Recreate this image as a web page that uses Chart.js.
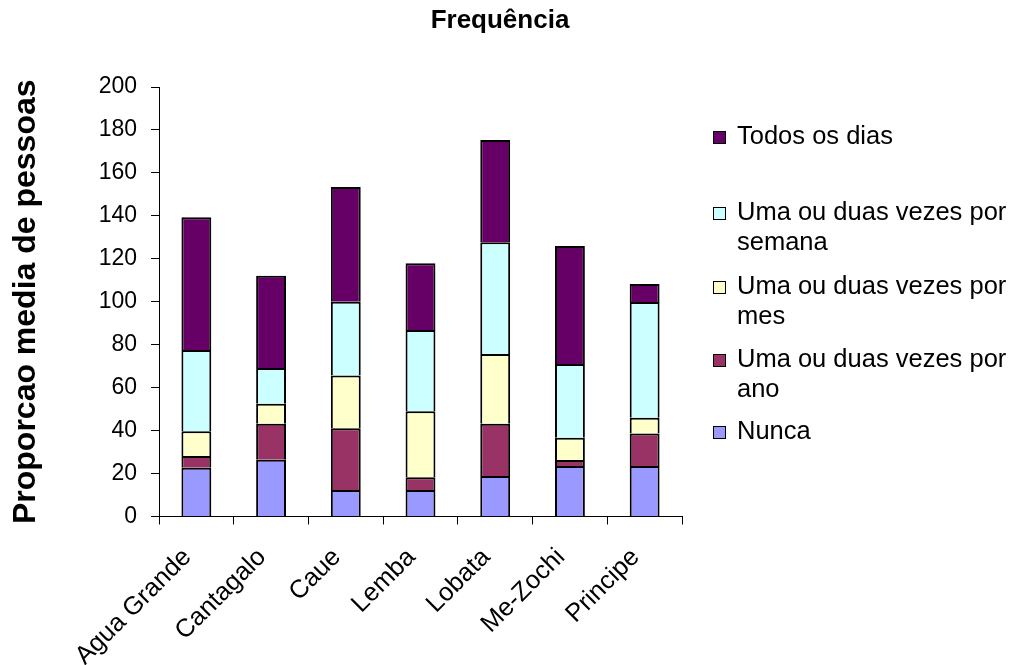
<!DOCTYPE html>
<html>
<head>
<meta charset="utf-8">
<script src="https://cdn.jsdelivr.net/npm/chart.js@4.4.0/dist/chart.umd.min.js"></script>
<style>
  html, body { margin: 0; padding: 0; background: #fff; }
  #wrap { position: relative; width: 1014px; height: 665px; overflow: hidden; font-family: "Liberation Sans", Arial, sans-serif; }
  #c { position: absolute; left: 0; top: 0; }
  .lg { position: absolute; left: 737px; width: 277px; font-size: 25.5px; line-height: 29.5px; color: #000; }
  .sw { position: absolute; left: -24px; top: 10px; width: 11px; height: 11px; border: 1px solid #000; }
</style>
</head>
<body>
<div id="wrap">
  <canvas id="c" width="1014" height="665"></canvas>
  <div id="legend"></div>
</div>
<script>
// ---- data ----
const categories = ["Agua Grande", "Cantagalo", "Caue", "Lemba", "Lobata", "Me-Zochi", "Principe"];
const nunca      = [22.7, 26.4, 12.3, 12.3, 18.9, 23.5, 23.5];
const porAno     = [5.5, 16.8, 28.8, 6.0, 24.3, 2.8, 15.1];
const porMes     = [11.5, 9.3, 24.5, 30.7, 32.5, 10.4, 7.4];
const porSemana  = [37.8, 16.7, 34.4, 37.8, 52.0, 34.3, 53.9];
const todosDias  = [61.8, 42.9, 53.4, 31.1, 47.6, 55.0, 8.4];
const seriesNames = ["Nunca", "Uma ou duas vezes por ano", "Uma ou duas vezes por mes", "Uma ou duas vezes por semana", "Todos os dias"];
const seriesColors = ["#9999FF", "#993366", "#FFFFCC", "#CCFFFF", "#660066"];
const yTicks = [0, 20, 40, 60, 80, 100, 120, 140, 160, 180, 200];
const chartTitle = "Frequência";
const yTitle = "Proporcao media de pessoas";

const FONT = '"Liberation Sans", Arial, sans-serif';
const seriesValues = [nunca, porAno, porMes, porSemana, todosDias];

const datasets = seriesValues.map((vals, i) => ({
  label: seriesNames[i],
  data: vals,
  backgroundColor: seriesColors[i],
  borderColor: "#000",
  borderWidth: 2,
  barPercentage: 0.4,
  categoryPercentage: 1.0
}));

new Chart(document.getElementById("c"), {
  type: "bar",
  data: { labels: categories, datasets },
  options: {
    responsive: false,
    devicePixelRatio: 1,
    animation: false,
    layout: { padding: { left: 0, right: 14, top: 0, bottom: 0 } },
    plugins: {
      legend: { display: false },
      tooltip: { enabled: false },
      title: {
        display: true,
        text: chartTitle,
        color: "#000",
        font: { family: FONT, size: 26, weight: "bold" },
        padding: { top: 5, bottom: 50.8 }
      }
    },
    scales: {
      x: {
        stacked: true,
        grid: { drawOnChartArea: false, offset: true, tickLength: 8, color: "#000" },
        border: { color: "#000", width: 1 },
        ticks: { color: "#000", font: { family: FONT, size: 25.5 }, maxRotation: 45, minRotation: 45, padding: 18, labelOffset: -9, autoSkip: false },
        afterFit: (s) => { s.height = 148.5; }
      },
      y: {
        stacked: true,
        min: 0, max: 200,
        afterBuildTicks: (s) => { s.ticks = yTicks.map(v => ({ value: v })); },
        grid: { drawOnChartArea: false, tickLength: 8, color: "#000" },
        border: { color: "#000", width: 1 },
        ticks: { color: "#000", font: { family: FONT, size: 23 }, padding: 14 },
        title: {
          display: true,
          text: yTitle,
          color: "#000",
          font: { family: FONT, size: 32, weight: "bold" },
          padding: { top: 7, bottom: 0 }
        },
        afterFit: (s) => { s.width = 159; }
      },
      // empty spacer axis that reserves the legend column on the right
      spacer: {
        position: "right",
        display: true,
        grid: { display: false },
        border: { display: false },
        ticks: { display: false },
        afterFit: (s) => { s.width = 318; }
      }
    }
  }
});

// HTML legend (order as in the reference: top series first)
const legendTops = [121, 197, 271, 344, 416];
const legend = document.getElementById("legend");
for (let k = 0; k < seriesNames.length; k++) {
  const i = seriesNames.length - 1 - k;
  const item = document.createElement("div");
  item.className = "lg";
  item.style.top = legendTops[k] + "px";
  const sw = document.createElement("span");
  sw.className = "sw";
  sw.style.background = seriesColors[i];
  item.appendChild(sw);
  item.appendChild(document.createTextNode(seriesNames[i]));
  legend.appendChild(item);
}
</script>
</body>
</html>
